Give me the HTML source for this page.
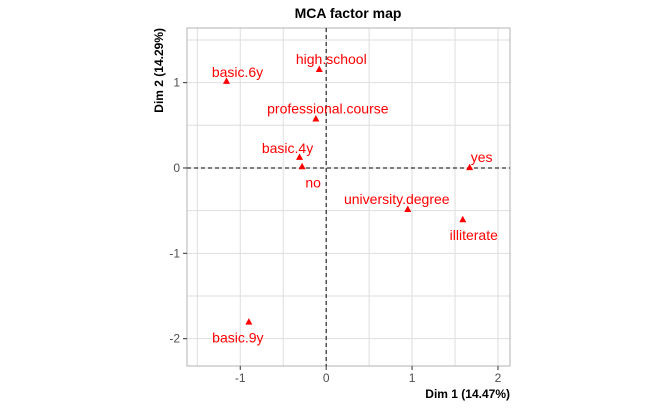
<!DOCTYPE html>
<html><head><meta charset="utf-8"><style>
body{margin:0;background:#fff;font-family:"Liberation Sans",sans-serif}
</style></head><body>
<svg id="c" width="661" height="408" xmlns="http://www.w3.org/2000/svg"></svg>
<script>
const labels=["basic.6y","high.school","professional.course","basic.4y","no","yes","university.degree","illiterate","basic.9y"];
const dim1=[-1.16,-0.08,-0.12,-0.31,-0.28,1.67,0.95,1.59,-0.9];
const dim2=[1.02,1.16,0.58,0.13,0.02,0.01,-0.48,-0.6,-1.8];
const labelDx=[11,12,12,-12,11,12,-11,11,-11];
const labelDy=[-9,-10,-10,-9,16,-10,-10,16,16];
const xTicks=[-1,0,1,2];
const yTicks=[-2,-1,0,1];
const L=187,R=510,T=28,B=366,xmin=-1.62,xmax=2.14,ymin=-2.32,ymax=1.64;
const sx=v=>L+(v-xmin)/(xmax-xmin)*(R-L);
const sy=v=>B-(v-ymin)/(ymax-ymin)*(B-T);
const svg=document.getElementById('c');const NS='http://www.w3.org/2000/svg';
function mk(t,a,txt){const e=document.createElementNS(NS,t);for(const k in a)e.setAttribute(k,a[k]);if(txt!==undefined)e.textContent=txt;svg.appendChild(e);return e;}
for(let v=-1.5;v<=2;v+=0.5){const e=mk('line',{x1:sx(v),x2:sx(v),y1:T,y2:B,stroke:'#dedede','stroke-width':1});

}
for(let v=-2;v<=1.5;v+=0.5){const e=mk('line',{x1:L,x2:R,y1:sy(v),y2:sy(v),stroke:'#dedede','stroke-width':1});

}
let p=mk('rect',{x:L,y:T,width:R-L,height:B-T,fill:'none',stroke:'#b3b3b3','stroke-width':1});


let h=mk('line',{x1:L,x2:R,y1:sy(0),y2:sy(0),stroke:'#000','stroke-dasharray':'4,3'});


let vv=mk('line',{x1:sx(0),x2:sx(0),y1:T,y2:B,stroke:'#000','stroke-dasharray':'4,3'});


xTicks.forEach(v=>{const x=sx(v);mk('line',{x1:x,x2:x,y1:B,y2:B+4,stroke:'#333'});
const t=mk('text',{x:x,y:B+16,'text-anchor':'middle','font-size':12,fill:'#4d4d4d'},v);

});
yTicks.forEach(v=>{const y=sy(v);mk('line',{x1:L-4,x2:L,y1:y,y2:y,stroke:'#333'});
const t=mk('text',{x:L-7,y:y+4,'text-anchor':'end','font-size':12,fill:'#4d4d4d'},v);

});
labels.forEach((n,i)=>{const x=sx(dim1[i]),y=sy(dim2[i]);
const m=mk('path',{d:`M${x-3.5},${y+3} L${x+3.5},${y+3} L${x},${y-3.5} Z`,fill:'#ff0000'});


const t=mk('text',{x:x+labelDx[i],y:y+labelDy[i]+5,'text-anchor':'middle','font-size':14,fill:'#ff0000'},n);

});
let ti=mk('text',{x:348,y:18,'text-anchor':'middle','font-size':14,'font-weight':'bold',fill:'#000'},'MCA factor map');


let xt=mk('text',{x:R,y:398,'text-anchor':'end','font-size':12,'font-weight':'bold',fill:'#000'},'Dim 1 (14.47%)');


let yt=mk('text',{x:0,y:0,'text-anchor':'end','font-size':12,'font-weight':'bold',fill:'#000',transform:`translate(163,${T}) rotate(-90)`},'Dim 2 (14.29%)');


</script>
</body></html>
